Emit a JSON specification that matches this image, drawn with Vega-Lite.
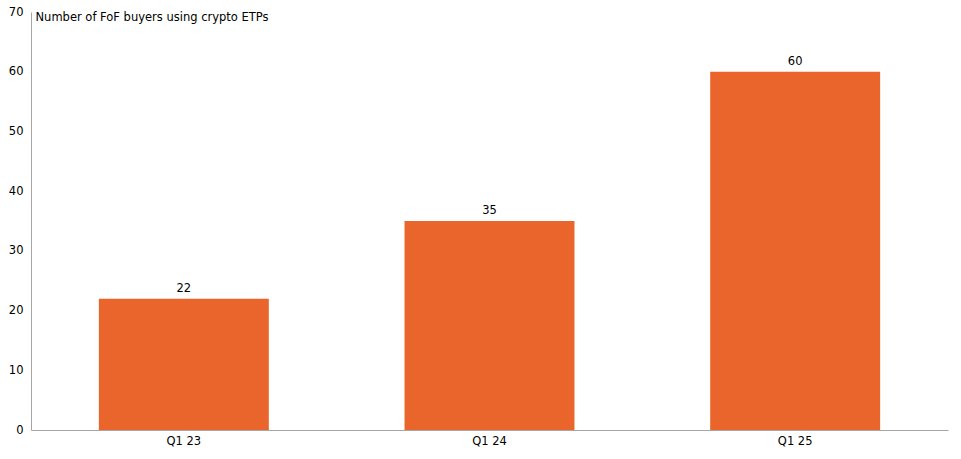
{
  "$schema": "https://vega.github.io/schema/vega-lite/v6.json",
  "width": 917,
  "height": 418,
  "autosize": {"type": "none"},
  "padding": {"left": 31, "top": 12, "right": 13, "bottom": 29},
  "data": {
    "values": [
      {"quarter": "Q1 23", "buyers": 22},
      {"quarter": "Q1 24", "buyers": 35},
      {"quarter": "Q1 25", "buyers": 60}
    ]
  },
  "encoding": {
    "x": {
      "field": "quarter",
      "type": "nominal",
      "sort": null,
      "scale": {"paddingInner": 0.444, "paddingOuter": 0.222},
      "axis": {
        "title": null,
        "labelAngle": 0,
        "ticks": false,
        "labelPadding": 5,
        "domainColor": "#a6a6a6",
        "labelFont": "DejaVu Sans",
        "labelFontSize": 11.5,
        "labelColor": "#000000"
      }
    },
    "y": {
      "field": "buyers",
      "type": "quantitative",
      "scale": {"domain": [0, 70]},
      "axis": {
        "values": [0, 10, 20, 30, 40, 50, 60, 70],
        "grid": false,
        "ticks": false,
        "labelPadding": 8,
        "domainColor": "#a6a6a6",
        "labelFont": "DejaVu Sans",
        "labelFontSize": 11.5,
        "labelColor": "#000000",
        "title": "Number of FoF buyers using crypto ETPs",
        "titleAngle": 0,
        "titleAlign": "left",
        "titleBaseline": "middle",
        "titleX": 4,
        "titleY": 5,
        "titleFont": "DejaVu Sans",
        "titleFontSize": 11.5,
        "titleFontWeight": "normal",
        "titleColor": "#000000"
      }
    }
  },
  "layer": [
    {"mark": {"type": "bar", "color": "#E9652B"}},
    {
      "mark": {
        "type": "text",
        "baseline": "bottom",
        "dy": -5,
        "font": "DejaVu Sans",
        "fontSize": 11.5,
        "color": "#000000"
      },
      "encoding": {"text": {"field": "buyers", "type": "quantitative"}}
    }
  ],
  "config": {
    "background": "white",
    "view": {"stroke": "transparent"}
  }
}
